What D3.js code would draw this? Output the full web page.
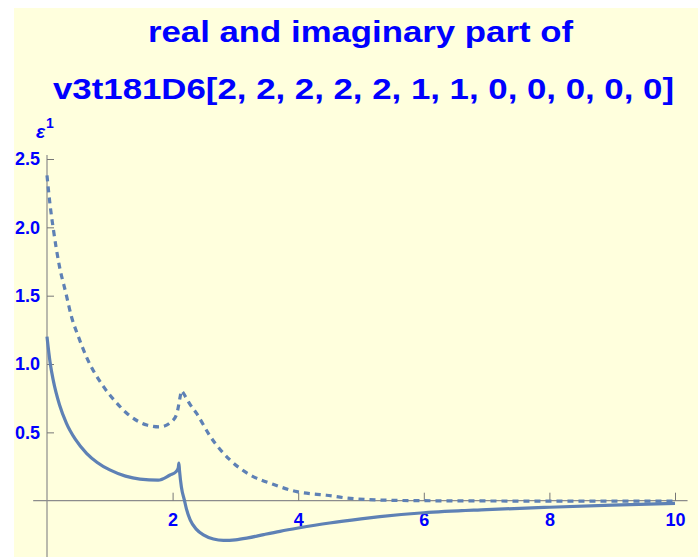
<!DOCTYPE html>
<html>
<head>
<meta charset="utf-8">
<script src="https://cdn.jsdelivr.net/npm/d3@7"></script>
<style>
	body { margin: 0; background: #ffffff; }
	svg { display: block; }
	text { font-family: "Liberation Sans", Arial, sans-serif; font-weight: bold; fill: #0000ff; }
</style>
</head>
<body>
<svg width="698" height="557"></svg>
<script>
// title lines
const titleLines = ["real and imaginary part of", "v3t181D6[2, 2, 2, 2, 2, 1, 1, 0, 0, 0, 0, 0]"]

// real part (solid)
const realX = [0, 0.05, 0.1, 0.2, 0.31, 0.45, 0.63, 0.8, 1.0, 1.25, 1.48, 1.77, 1.96, 2.05, 2.09, 2.1, 2.11, 2.14, 2.19, 2.22, 2.28, 2.38, 2.49, 2.65, 2.81, 3.0, 3.2, 3.45, 3.71, 4.0, 4.5, 5.0, 5.3, 6.0, 7.0, 8.0, 9.0, 10.0]
const realY = [1.2, 1.01, 0.88, 0.7, 0.566, 0.45, 0.347, 0.28, 0.225, 0.18, 0.158, 0.15, 0.188, 0.21, 0.24, 0.275, 0.22, 0.1, 0.0, -0.06, -0.14, -0.21, -0.25, -0.28, -0.29, -0.286, -0.272, -0.248, -0.224, -0.2, -0.163, -0.133, -0.117, -0.088, -0.065, -0.048, -0.033, -0.02]

// imaginary part (dashed)
const imagX = [0, 0.05, 0.1, 0.196, 0.3, 0.39, 0.5, 0.63, 0.9, 1.1, 1.27, 1.59, 1.8, 2.01, 2.08, 2.12, 2.14, 2.16, 2.2, 2.27, 2.38, 2.6, 2.91, 3.23, 3.6, 3.98, 4.24, 4.45, 4.77, 5.3, 6.0, 7.0, 8.0, 9.0, 10.0]
const imagY = [2.38, 2.16, 1.99, 1.72, 1.52, 1.346, 1.2, 1.05, 0.834, 0.72, 0.64, 0.554, 0.54, 0.59, 0.66, 0.76, 0.805, 0.795, 0.765, 0.71, 0.64, 0.47, 0.3, 0.19, 0.12, 0.066, 0.049, 0.04, 0.02, 0.005, 0.0, -0.002, -0.003, -0.003, -0.003]

// ticks
const xMajor = [2, 4, 6, 8, 10]
const xMinor = [0.5, 1, 1.5, 2.5, 3, 3.5, 4.5, 5, 5.5, 6.5, 7, 7.5, 8.5, 9, 9.5]
const yMajor = [0.5, 1.0, 1.5, 2.0, 2.5]
const yMinor = [-0.4, -0.3, -0.2, -0.1, 0.1, 0.2, 0.3, 0.4, 0.6, 0.7, 0.8, 0.9, 1.1, 1.2, 1.3, 1.4, 1.6, 1.7, 1.8, 1.9, 2.1, 2.2, 2.3, 2.4]

const svg = d3.select("svg"),
	width = +svg.attr("width"),
	height = +svg.attr("height");

svg.append("rect")
	.attr("x", 14).attr("y", 8)
	.attr("width", width - 14).attr("height", height - 8)
	.attr("fill", "#ffffdd")

const x = d3.scaleLinear().domain([0, 10]).range([47, 675])
const y = d3.scaleLinear().domain([0, 2.5]).range([500.7, 159])

// title
svg.selectAll(".title")
	.data(titleLines)
	.join("text")
	.attr("class", "title")
	.attr("x", (d, i) => i == 0 ? 148 : 53)
	.attr("y", (d, i) => i == 0 ? 42 : 99)
	.attr("textLength", (d, i) => i == 0 ? 425 : 621)
	.attr("lengthAdjust", "spacingAndGlyphs")
	.style("font-size", "29px")
	.text(d => d)

// axis lines
const axisColor = "#8c8c8c"
svg.append("line")
	.attr("x1", x(-0.22)).attr("x2", x(10.2))
	.attr("y1", y(0)).attr("y2", y(0))
	.attr("stroke", axisColor).attr("stroke-width", 1.2)
svg.append("line")
	.attr("x1", x(0)).attr("x2", x(0))
	.attr("y1", y(2.53)).attr("y2", height)
	.attr("stroke", axisColor).attr("stroke-width", 1.2)

// x ticks (pointing up), labels below
const xAxisMajor = d3.axisBottom(x).tickValues(xMajor).tickSize(-8).tickPadding(13).tickFormat(d3.format("d"))
const xAxisMinor = d3.axisBottom(x).tickValues(xMinor).tickSize(-5).tickFormat("")

const gx = svg.append("g").attr("transform", `translate(0,${y(0)})`)
gx.call(xAxisMinor)
gx.call(xAxisMajor)
gx.selectAll(".domain").remove()
gx.selectAll("line").attr("stroke", "#777")
gx.selectAll("text")
	.style("font-size", "18px")
	.attr("fill", "#0000ff")

// y ticks (pointing right), labels left
const yAxisMajor = d3.axisLeft(y).tickValues(yMajor).tickSize(-7).tickPadding(7).tickFormat(d3.format(".1f"))
const yAxisMinor = d3.axisLeft(y).tickValues(yMinor).tickSize(-4).tickFormat("")

const gy = svg.append("g").attr("transform", `translate(${x(0)},0)`)
gy.call(yAxisMinor)
gy.call(yAxisMajor)
gy.selectAll(".domain").remove()
gy.selectAll("line").attr("stroke", "#777")
gy.selectAll("text")
	.style("font-size", "18px")
	.attr("fill", "#0000ff")

// axis label epsilon^1
const lab = svg.append("text")
	.attr("x", 36).attr("y", 138)
	.style("font-size", "19px")
lab.append("tspan").style("font-style", "italic").text("ε")
lab.append("tspan").attr("dy", -10).attr("dx", 1).style("font-size", "14px").text("1")

// curves
const line = d3.line()
	.x(d => x(d[0]))
	.y(d => y(d[1]))
	.curve(d3.curveMonotoneX)

svg.append("path")
	.datum(imagX.map((v, i) => [v, imagY[i]]))
	.attr("d", line)
	.attr("fill", "none")
	.attr("stroke", "#5e81b5")
	.attr("stroke-width", 3.2)
	.attr("stroke-dasharray", "6,5")

svg.append("path")
	.datum(realX.map((v, i) => [v, realY[i]]))
	.attr("d", line)
	.attr("fill", "none")
	.attr("stroke", "#5e81b5")
	.attr("stroke-width", 3.2)
</script>
</body>
</html>
